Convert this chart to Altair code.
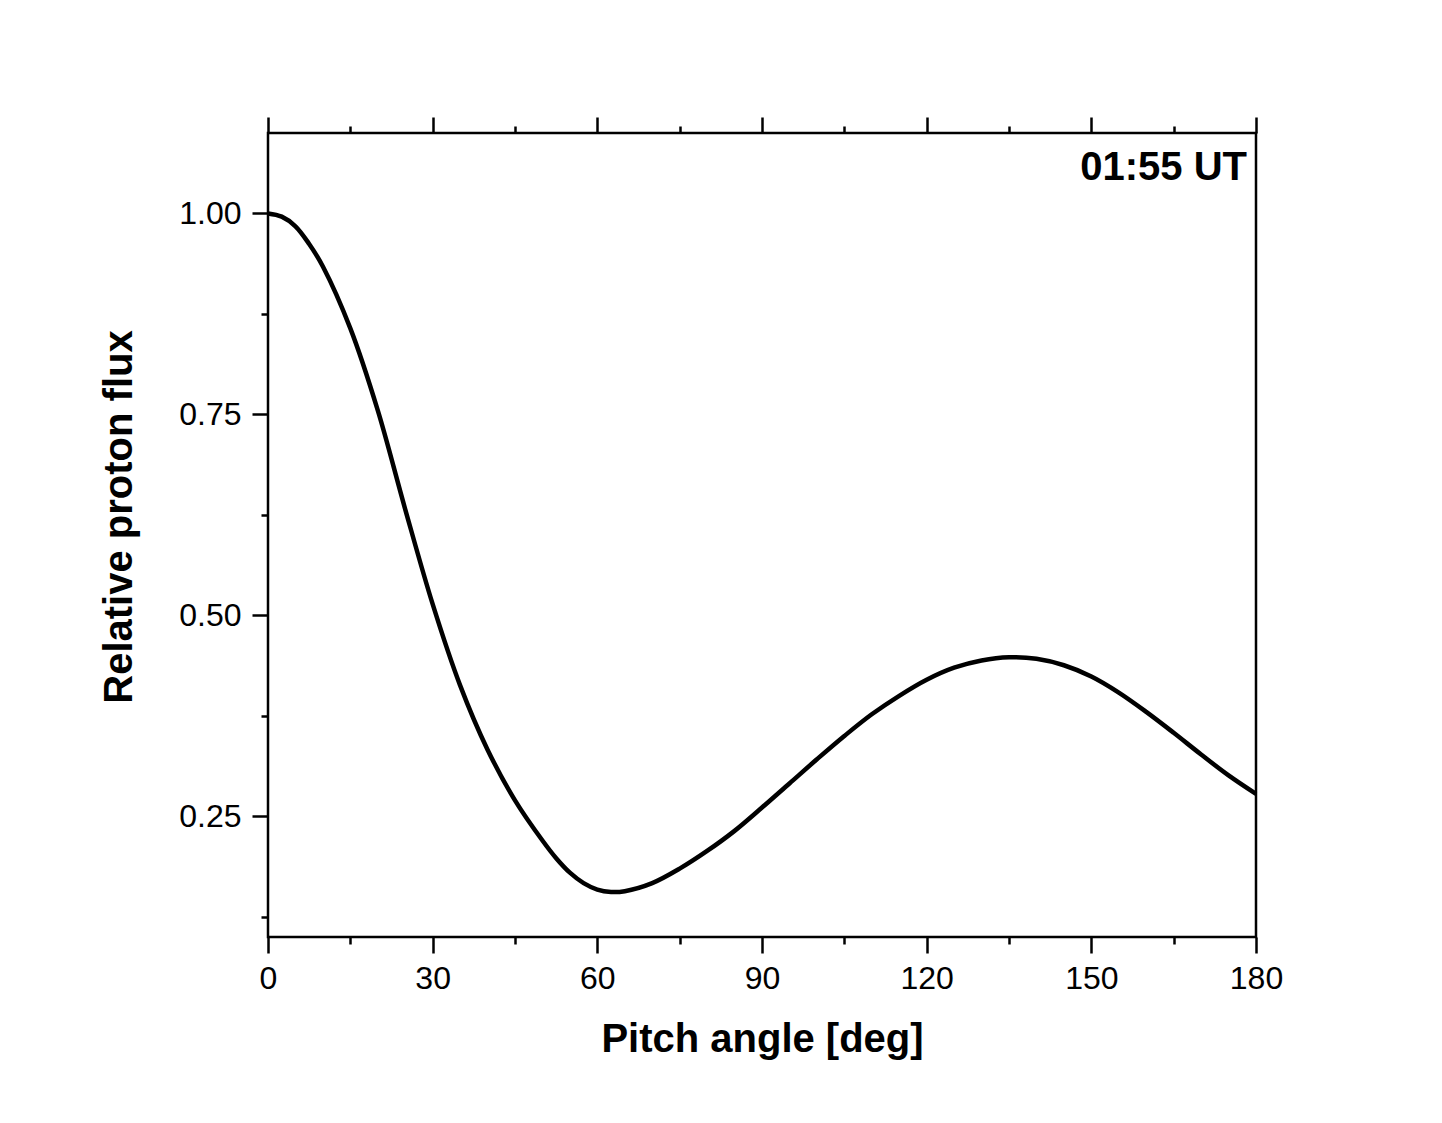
import altair as alt
import pandas as pd

# Pitch angle [deg] and relative proton flux
angle = [0, 2.5, 5, 7.5, 10, 15, 20, 25, 30, 35, 40, 45, 50, 52.5, 55, 57.5, 60,
         62.5, 65, 70, 75, 80, 85, 90, 95, 100, 105, 110, 115, 120, 125, 130,
         135, 140, 145, 150, 155, 160, 165, 170, 175, 180]
flux = [1.000, 0.996, 0.984, 0.962, 0.934, 0.857, 0.755, 0.632, 0.514, 0.413,
        0.333, 0.270, 0.220, 0.198, 0.180, 0.167, 0.159, 0.156, 0.157, 0.167,
        0.185, 0.207, 0.232, 0.261, 0.291, 0.321, 0.350, 0.377, 0.400, 0.420,
        0.435, 0.444, 0.448, 0.446, 0.438, 0.424, 0.404, 0.380, 0.354, 0.327,
        0.301, 0.278]

x_major = [0, 30, 60, 90, 120, 150, 180]
x_minor = [15, 45, 75, 105, 135, 165]
y_major = [0.25, 0.50, 0.75, 1.00]
y_minor = [0.125, 0.375, 0.625, 0.875]
annotation = ["01:55 UT"]

df = pd.DataFrame({"angle": angle, "flux": flux})
ann = pd.DataFrame({"label": annotation})

FONT = "Liberation Sans"
xscale = alt.Scale(domain=[0, 180], nice=False, zero=False)
yscale = alt.Scale(domain=[0.1, 1.1], nice=False, zero=False)

base = alt.Chart(df)

main = base.mark_line(color="black", strokeWidth=4.5, interpolate="catmull-rom").encode(
    x=alt.X("angle:Q", scale=xscale, axis=alt.Axis(
        orient="bottom", values=x_major, tickSize=16, labelPadding=10,
        labelFontSize=32, labelFlush=False, labelBound=False,
        title="Pitch angle [deg]", titleFontSize=40,
        titleFontWeight="bold", titleX=494, titleY=114, titleAlign="center",
        titleBaseline="alphabetic")),
    y=alt.Y("flux:Q", scale=yscale, axis=alt.Axis(
        orient="left", values=y_major, format=".2f", tickSize=16, labelPadding=11,
        labelFontSize=32, labelFlush=False, labelBound=False,
        title="Relative proton flux", titleFontSize=40,
        titleFontWeight="bold", titleAngle=270, titleX=-137, titleY=383.5,
        titleAlign="center", titleBaseline="alphabetic")),
)

minor_bl = base.mark_line(opacity=0).encode(
    x=alt.X("angle:Q", scale=xscale, axis=alt.Axis(
        orient="bottom", values=x_minor, tickSize=7, labels=False, title=None)),
    y=alt.Y("flux:Q", scale=yscale, axis=alt.Axis(
        orient="left", values=y_minor, tickSize=7, labels=False, title=None)),
)

top_major = base.mark_line(opacity=0).encode(
    x=alt.X("angle:Q", scale=xscale, axis=alt.Axis(
        orient="top", values=x_major, tickSize=16, labels=False, title=None)),
    y=alt.Y("flux:Q", scale=yscale, axis=None),
)

top_minor = base.mark_line(opacity=0).encode(
    x=alt.X("angle:Q", scale=xscale, axis=alt.Axis(
        orient="top", values=x_minor, tickSize=7, labels=False, title=None)),
    y=alt.Y("flux:Q", scale=yscale, axis=None),
)

label = alt.Chart(ann).mark_text(
    align="right", baseline="alphabetic", font=FONT, fontSize=40,
    fontWeight="bold", color="black"
).encode(x=alt.value(979), y=alt.value(46.5), text="label:N")

chart = alt.layer(main, minor_bl, top_major, top_minor, label).resolve_scale(
    x="independent", y="independent"
).properties(
    width=988, height=804,
    padding={"left": 260, "top": 125, "right": 150, "bottom": 150},
    autosize=alt.AutoSizeParams(type="none"),
    background="white",
).configure_axis(
    domain=False, grid=False, tickColor="black", tickWidth=2.5,
    labelFont=FONT, labelColor="black", titleFont=FONT, titleColor="black",
).configure_view(stroke="black", strokeWidth=2.5)

chart.save("out.html", embed_options={"renderer": "svg", "actions": False})
